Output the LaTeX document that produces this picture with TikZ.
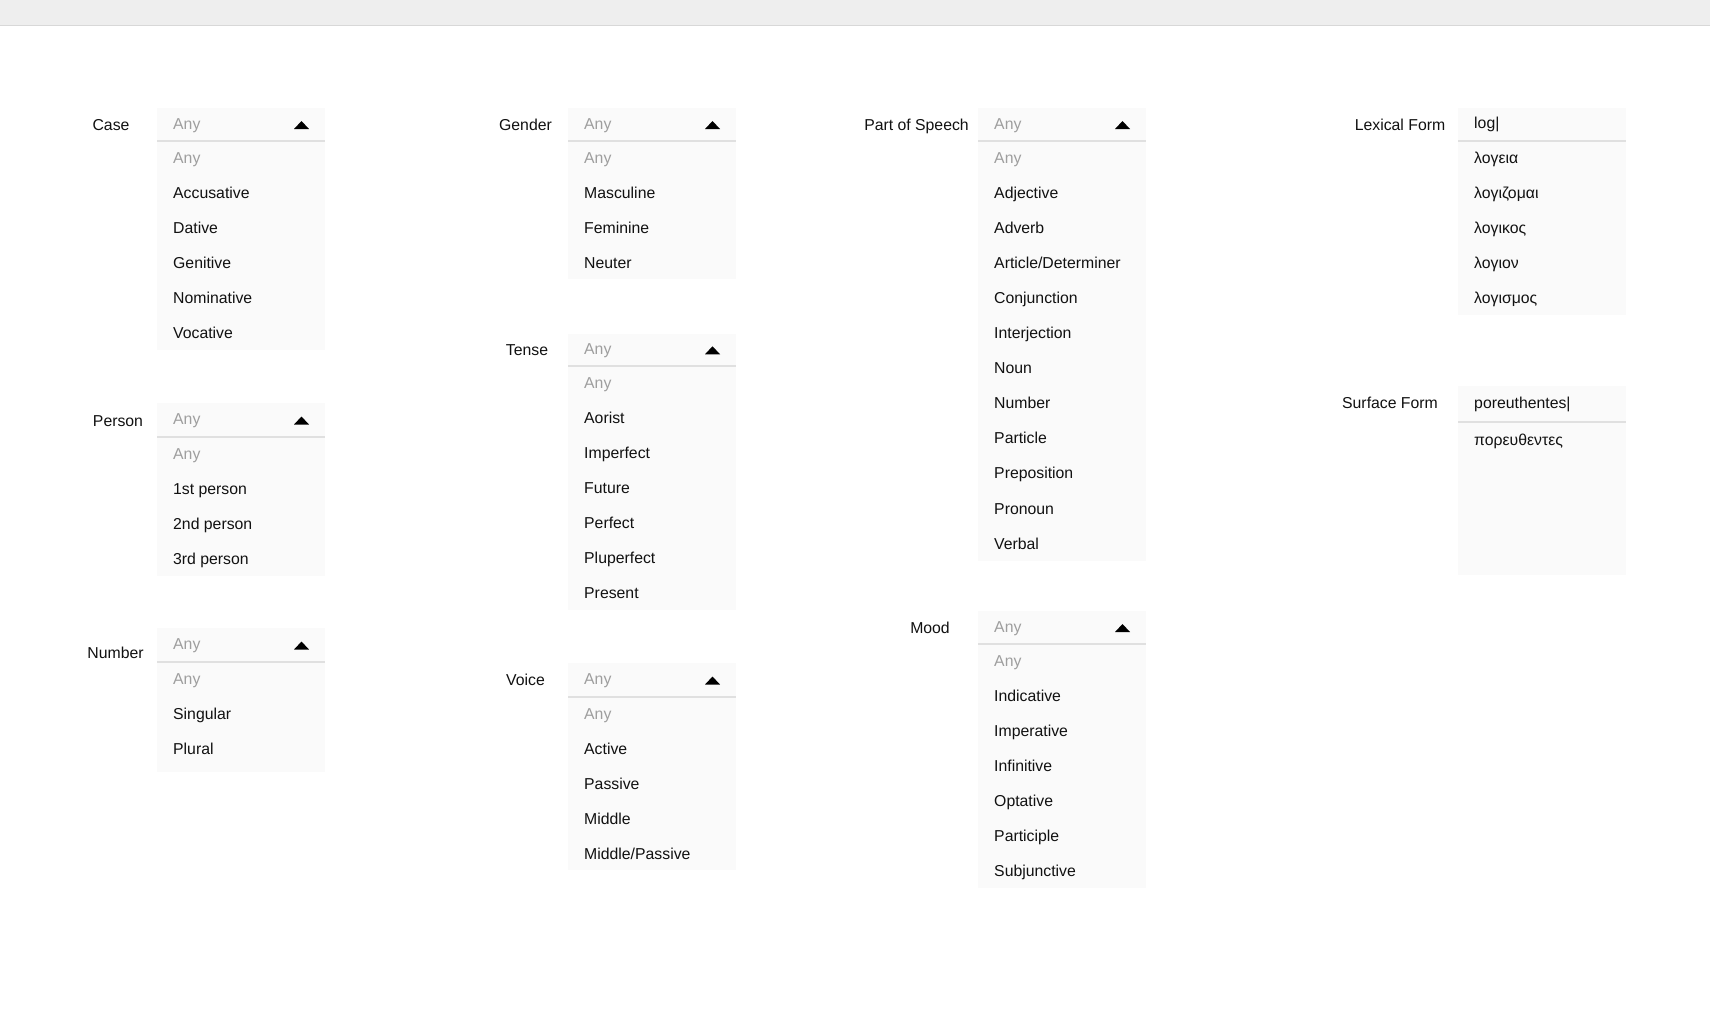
\documentclass[tikz,border=0pt]{standalone}
\usepackage{fontspec}
\setmainfont{Liberation Sans}
\definecolor{boxbg}{HTML}{FAFAFA}
\definecolor{sepcol}{HTML}{E0E0E0}
\definecolor{anycol}{HTML}{9E9E9E}
\definecolor{itemcol}{HTML}{111111}
\definecolor{topbar}{HTML}{EEEEEE}
\definecolor{topline}{HTML}{D8D8D8}
\tikzset{
  uifont/.style={font=\fontsize{15.8}{18}\selectfont, inner sep=0pt},
  anytxt/.style={uifont, anchor=base west, text=anycol},
  itemtxt/.style={uifont, anchor=base west, text=itemcol},
  lbl/.style={uifont, anchor=base, text=itemcol},
  sepline/.style={draw=sepcol, line width=1.3pt},
}
% #1 name, #2 left, #3 top, #4 separator y, #5 bottom, #6 items
\newcommand\ddrop[6]{%
  \fill[boxbg] (#2,#3) rectangle ({#2+168},#5);
  \draw[sepline] (#2,#4) -- ({#2+168},#4);
  \node[anytxt] (#1-head) at ({#2+16},{(#3+#4)/2-1+5.5}) {Any};
  \fill[black] ({#2+144.5-7.5},{(#3+#4)/2+0.5+4}) -- ({#2+144.5+7.5},{(#3+#4)/2+0.5+4}) -- ({#2+144.5},{(#3+#4)/2+0.5-4}) -- cycle;
  \node[anytxt] (#1-any) at ({#2+16},{#4+17+5.5}) {Any};
  \foreach \t [count=\i] in {#6} {\node[itemtxt] (#1-\i) at ({#2+16},{#4+17+35.05*\i+5.5}) {\t};}
}
\begin{document}
\begin{tikzpicture}[x=1pt,y=-1pt]
\useasboundingbox (0,0) rectangle (1710,1013);
\fill[white] (0,0) rectangle (1710,1013);
\fill[topbar] (0,0) rectangle (1710,25);
\draw[topline, line width=1pt] (0,25) -- (1710,25);

% column 1
\node[lbl] (case-lbl) at (111,130.5) {Case};
\ddrop{case}{157}{108}{141}{350}{Accusative,Dative,Genitive,Nominative,Vocative}
\node[lbl] (person-lbl) at (118,426.5) {Person};
\ddrop{person}{157}{403}{437}{576}{1st person,2nd person,3rd person}
\node[lbl] (number-lbl) at (115.5,658.5) {Number};
\ddrop{number}{157}{628}{662}{772}{Singular,Plural}

% column 2
\node[lbl] (gender-lbl) at (525.5,130.5) {Gender};
\ddrop{gender}{568}{108}{141}{279}{Masculine,Feminine,Neuter}
\node[lbl] (tense-lbl) at (527,355.5) {Tense};
\ddrop{tense}{568}{333.5}{366}{610}{Aorist,Imperfect,Future,Perfect,Pluperfect,Present}
\node[lbl] (voice-lbl) at (525.5,685.5) {Voice};
\ddrop{voice}{568}{663}{697}{870}{Active,Passive,Middle,Middle/Passive}

% column 3
\node[lbl] (pos-lbl) at (916.5,130.5) {Part of Speech};
\ddrop{pos}{978}{108}{141}{561}{Adjective,Adverb,Article/Determiner,Conjunction,Interjection,Noun,Number,Particle,Preposition,Pronoun,Verbal}
\node[lbl] (mood-lbl) at (930,633.5) {Mood};
\ddrop{mood}{978}{611}{644}{888}{Indicative,Imperative,Infinitive,Optative,Participle,Subjunctive}

% column 4
\node[lbl] (lex-lbl) at (1400,130.5) {Lexical Form};
\fill[boxbg] (1458,108) rectangle (1626,315);
\draw[sepline] (1458,141) -- (1626,141);
\node[itemtxt] (lex-head) at (1474,128.5) {log|};
\foreach \t [count=\i from 0] in {λογεια,λογιζομαι,λογικος,λογιον,λογισμος}
  {\node[itemtxt] (lex-\i) at (1474,{158+35.05*\i+5.5}) {\t};}

\node[lbl] (surf-lbl) at (1390,408.5) {Surface Form};
\fill[boxbg] (1458,386) rectangle (1626,575);
\draw[sepline] (1458,422) -- (1626,422);
\node[itemtxt] (surf-head) at (1474,408.5) {poreuthentes|};
\node[itemtxt] (surf-1) at (1474,445.5) {πορευθεντες};
\end{tikzpicture}
\end{document}
